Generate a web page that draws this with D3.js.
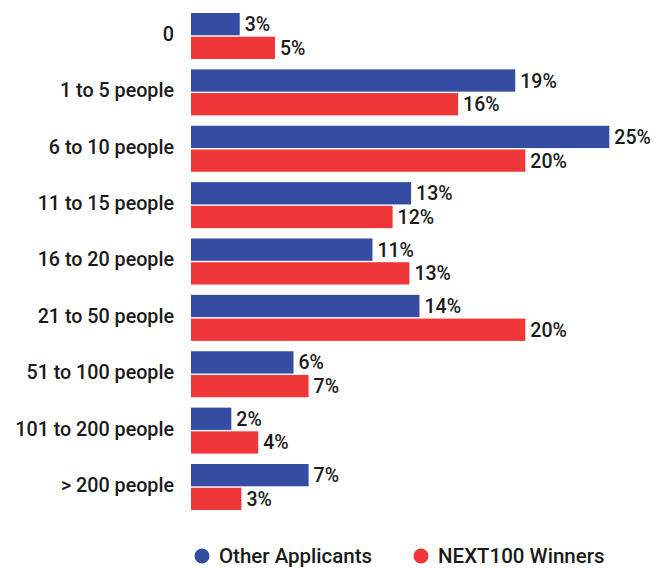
<!DOCTYPE html>
<html>
<head>
<meta charset="utf-8">
<script src="https://cdn.jsdelivr.net/npm/d3@7"></script>
<style>
    body { margin: 0; background: #ffffff; }
    text { font-family: Roboto, "Noto Sans", sans-serif; fill: #1a1a1a; }
</style>
</head>
<body>
<svg id="chart" width="656" height="568"></svg>
<script>
// categories and values
let categories = ["0", "1 to 5 people", "6 to 10 people", "11 to 15 people", "16 to 20 people",
    "21 to 50 people", "51 to 100 people", "101 to 200 people", "> 200 people"];
let seriesNames = ["Other Applicants", "NEXT100 Winners"];
let otherApplicants = [2.9, 19.3, 24.9, 13.1, 10.8, 13.6, 6.1, 2.4, 7.0];
let next100Winners = [5.0, 15.9, 19.9, 12.0, 13.0, 19.9, 7.0, 4.0, 3.0];
let colors = ["#344ca1", "#ef3739"];

let svg = d3.select("svg#chart");
let barLeft = 191;

let tableRows = categories.map(function (c, i) {
    return {
        category: c,
        values: [
            { key: seriesNames[0], val: otherApplicants[i] },
            { key: seriesNames[1], val: next100Winners[i] }
        ]
    };
});

let xScale = d3.scaleLinear().domain([0, 25]).range([barLeft, barLeft + 420]);
let yScale = d3.scaleBand().domain(categories).range([13, 510]).paddingInner(0.184).paddingOuter(0);
let innerScale = d3.scaleBand().domain(seriesNames).range([0, yScale.bandwidth()]).paddingInner(0.06);
let colorScale = d3.scaleOrdinal().domain(seriesNames).range(colors);

// category labels
let yAxis = d3.axisLeft(yScale).tickSize(0).tickPadding(0);
svg.append("g")
    .attr("transform", "translate(" + 174 + ",0)")
    .call(yAxis)
    .call(g => g.select(".domain").remove())
    .selectAll("text")
    .attr("dy", "0.25em")
    .style("font-family", "Roboto, sans-serif")
    .style("font-size", "19.7px")
    .style("font-weight", "500")
    .attr("fill", "#1a1a1a");

let groups = svg.append("g").selectAll("g.group")
    .data(tableRows)
    .join("g")
    .attr("class", "group")
    .attr("transform", d => "translate(0," + yScale(d.category) + ")");

groups.selectAll("rect")
    .data(d => d.values)
    .join("rect")
    .attr("x", xScale(0))
    .attr("y", d => innerScale(d.key))
    .attr("width", d => xScale(d.val) - xScale(0))
    .attr("height", innerScale.bandwidth())
    .attr("fill", d => colorScale(d.key));

groups.selectAll("text.value")
    .data(d => d.values)
    .join("text")
    .attr("class", "value")
    .attr("x", d => xScale(d.val) + 5)
    .attr("y", d => innerScale(d.key) + innerScale.bandwidth() / 2)
    .attr("dy", "0.36em")
    .style("font-size", "19.5px")
    .style("font-weight", "500")
    .text(d => d3.format(".0f")(d.val) + "%");

// legend
let legendX = [202, 421];
let legend = svg.append("g").selectAll("g")
    .data(seriesNames)
    .join("g")
    .attr("transform", (d, i) => "translate(" + legendX[i] + "," + 556 + ")");
legend.append("circle")
    .attr("r", 7.5)
    .attr("fill", d => colorScale(d));
legend.append("text")
    .attr("x", 17)
    .attr("dy", "0.36em")
    .style("font-size", "20.5px")
    .style("font-weight", "500")
    .text(d => d);
</script>
</body>
</html>
